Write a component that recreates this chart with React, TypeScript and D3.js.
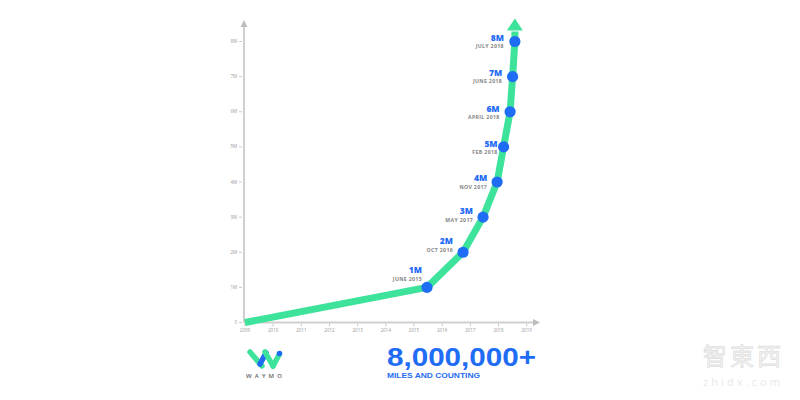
import React from "react";
import * as d3 from "d3";

// ---- data ----
const milestoneValues = [1, 2, 3, 4, 5, 6, 7, 8]; // millions of miles
const milestoneDates = [2015.46, 2016.74, 2017.45, 2017.95, 2018.18, 2018.41, 2018.5, 2018.58];
const milestoneLabels = ["1M", "2M", "3M", "4M", "5M", "6M", "7M", "8M"];
const milestoneDateLabels = [
  "JUNE 2015", "OCT 2016", "MAY 2017", "NOV 2017",
  "FEB 2018", "APRIL 2018", "JUNE 2018", "JULY 2018",
];
const startPoint = { year: 2009, value: 0 };
const xTickYears = [2009, 2010, 2011, 2012, 2013, 2014, 2015, 2016, 2017, 2018, 2019];
const yTickValues = [0, 1, 2, 3, 4, 5, 6, 7, 8];
const yTickLabels = ["0", "1M", "2M", "3M", "4M", "5M", "6M", "7M", "8M"];
const headline = "8,000,000+";
const subline = "MILES AND COUNTING";
const brand = "WAYMO";

// ---- layout (not data) ----
const labelDy = [-17, -11, -6, -4, -3, -3, -4, -4];
const labelDx = [-5, -10, -10, -10, -6, -10.5, -10.5, -11];

const GREEN = "#3de39a";
const BLUE = "#1f6cf5";
const AXIS = "#cfcfcf";

export default function App() {
  const x = d3.scaleLinear().domain([2009, 2019]).range([245, 526.7]);
  const y = d3.scaleLinear().domain([0, 8]).range([322.5, 41.5]);

  const pts: [number, number][] = [
    [x(startPoint.year), y(startPoint.value)],
    ...milestoneValues.map((v, i) => [x(milestoneDates[i]), y(v)] as [number, number]),
  ];
  const last = pts[pts.length - 1];
  const arrowBase = last[1] - 11;
  const linePts: [number, number][] = [...pts, [last[0], arrowBase + 1]];
  const line = d3.line().curve(d3.curveLinear)(linePts) || "";

  const axisX0 = 244;
  const axisY0 = y(0);

  return (
    <svg
      width={800}
      height={400}
      style={{ position: "absolute", left: 0, top: 0, background: "#fff" }}
      fontFamily="'Open Sans', sans-serif"
    >
      <rect width={800} height={400} fill="#fff" />
      {/* y axis */}
      <line x1={axisX0} x2={axisX0} y1={axisY0} y2={26} stroke={AXIS} strokeWidth={2} />
      <path d={`M${axisX0 - 3.5},27 L${axisX0},20 L${axisX0 + 3.5},27 Z`} fill="#bdbdbd" />
      {yTickValues.map((v, i) => (
        <g key={"yt" + i}>
          <line x1={axisX0 - 5} x2={axisX0 - 2} y1={y(v)} y2={y(v)} stroke="#bbb" strokeWidth={0.8} />
          <text x={axisX0 - 7} y={y(v) + 1.6} fontSize={4.5} fill="#999" textAnchor="end">
            {yTickLabels[i]}
          </text>
        </g>
      ))}
      {/* x axis */}
      <line x1={axisX0} x2={534} y1={axisY0} y2={axisY0} stroke={AXIS} strokeWidth={2} />
      <path d={`M533,${axisY0 - 3.5} L540,${axisY0} L533,${axisY0 + 3.5} Z`} fill="#bdbdbd" />
      {xTickYears.map((yr) => (
        <g key={"xt" + yr}>
          <line x1={x(yr)} x2={x(yr)} y1={axisY0 + 1} y2={axisY0 + 4} stroke="#bbb" strokeWidth={0.8} />
          <text x={x(yr)} y={axisY0 + 9.5} fontSize={4.5} fill="#999" textAnchor="middle">
            {yr}
          </text>
        </g>
      ))}

      {/* growth line */}
      <path d={line} fill="none" stroke={GREEN} strokeWidth={7} strokeLinejoin="round" />
      <path
        d={`M${last[0] - 8},${arrowBase} L${last[0]},${arrowBase - 12} L${last[0] + 8},${arrowBase} Z`}
        fill={GREEN}
      />

      {/* milestones */}
      {milestoneValues.map((v, i) => {
        const cx = x(milestoneDates[i]);
        const cy = y(v);
        const lx = cx + labelDx[i];
        const ly = cy + labelDy[i];
        return (
          <g key={"m" + i}>
            <circle cx={cx} cy={cy} r={5.6} fill={BLUE} />
            <text x={lx} y={ly + 3} fontSize={8.5} fontWeight={800} fill={BLUE} textAnchor="end">
              {milestoneLabels[i]}
            </text>
            <text
              x={lx}
              y={ly + 10.5}
              fontSize={5.2}
              fontWeight={700}
              fill="#858585"
              textAnchor="end"
              letterSpacing={0.35}
            >
              {milestoneDateLabels[i]}
            </text>
          </g>
        );
      })}

      {/* Waymo logo */}
      <g strokeLinecap="round" fill="none" strokeWidth={5.5}>
        <path d="M250,352 L262,366" stroke={GREEN} />
        <path d="M260,364 L266,353" stroke={BLUE} />
        <path d="M265,352 L273,366" stroke={GREEN} />
        <path d="M273,366 L279,355" stroke={GREEN} />
        <circle cx={279.5} cy={353.5} r={2.8} fill={BLUE} stroke="none" />
      </g>
      <text x={246} y={377.5} fontSize={6} fill="#666" textLength={36} lengthAdjust="spacing" fontWeight={600}>
        {brand}
      </text>

      {/* headline */}
      <text
        x={387}
        y={366}
        fontSize={25}
        fontWeight={700}
        fontFamily="'Liberation Sans', Arial, sans-serif"
        fill={BLUE}
        textLength={149}
        lengthAdjust="spacingAndGlyphs"
      >
        {headline}
      </text>
      <text
        x={387}
        y={378}
        fontSize={7}
        fontWeight={700}
        fontFamily="'Liberation Sans', Arial, sans-serif"
        fill={BLUE}
        textLength={93}
        lengthAdjust="spacingAndGlyphs"
      >
        {subline}
      </text>

      {/* watermark */}
      <g>
        <text
          x={703}
          y={365}
          fontSize={24}
          fontFamily="'Noto Sans CJK TC', 'Noto Sans CJK SC', sans-serif"
          fill="#f8f8f8"
          stroke="#e0e0e0"
          strokeWidth={0.8}
          textLength={78}
        >
          智東西
        </text>
        <text x={703} y={386} fontSize={11} fill="#e8e8e8" textLength={77} lengthAdjust="spacing">
          zhidx.com
        </text>
      </g>
    </svg>
  );
}
